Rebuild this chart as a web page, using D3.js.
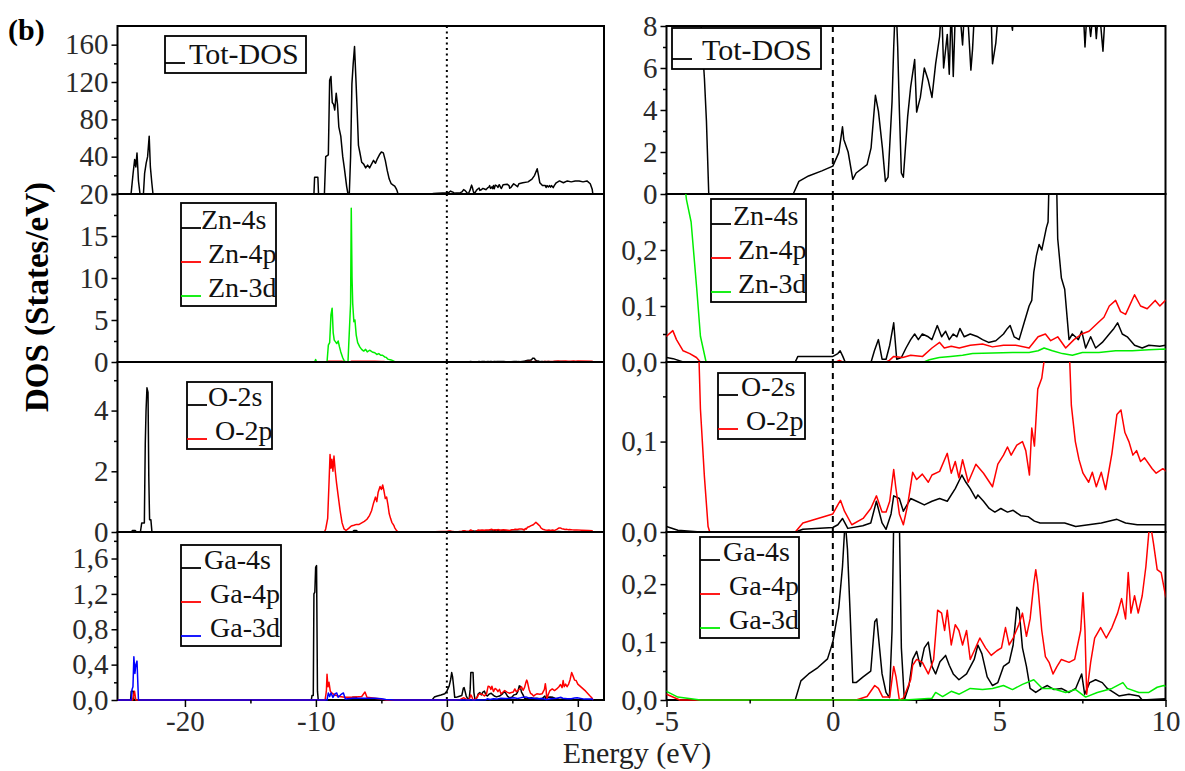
<!DOCTYPE html>
<html>
<head>
<meta charset="utf-8">
<script src="https://cdn.jsdelivr.net/npm/d3@7"></script>
<style>
  body { margin: 0; background: #fff; }
</style>
</head>
<body>
<svg id="chart" width="1185" height="771"></svg>
<script>
// [energy (eV), DOS] pairs
const totDos = [[-25.15,0],[-24.15,0],[-24.1,2],[-23.96,22],[-23.84,37],[-23.75,29],[-23.66,44],[-23.55,14],[-23.43,0],[-23.17,0],[-23.08,22],[-22.96,33],[-22.85,40],[-22.73,62],[-22.64,29],[-22.53,12],[-22.44,0],
  [-10.15,0],[-10.1,18],[-9.85,18],[-9.8,0],[-9.35,0],[-9.25,40],[-9.05,42],[-8.95,122],[-8.85,126],[-8.75,98],[-8.65,96],[-8.56,90],[-8.45,108],[-8.35,96],[-8.25,72],[-8.1,62],[-7.95,40],[-7.83,28],[-7.65,8],[-7.55,0],[-7.45,0],[-7.35,40],[-7.25,118],[-7.15,140],[-7.05,158],[-6.95,125],[-6.85,90],[-6.75,52],[-6.65,45],[-6.5,34],[-6.35,32],[-6.2,28],[-6.05,31],[-5.9,28],[-5.75,32],[-5.6,36],[-5.45,33],[-5.3,38],[-5.15,42],[-5.0,45],[-4.85,44],[-4.7,36],[-4.55,25],[-4.4,16],[-4.25,11],[-4.1,9.6],[-3.98,8.5],[-3.86,5.5],[-3.8,3.5],[-3.73,0],
  [-1.19,0],[-1.02,0.6],[-0.73,0.86],[-0.33,1.1],[0,1.33],[0.18,1.97],[0.29,3.2],[0.33,2.6],[0.46,2.0],[0.6,0.7],[0.7,1.0],[1.03,1.4],[1.15,2.2],[1.28,4.7],[1.37,3.95],[1.49,2.2],[1.58,0.6],[1.66,0.8],[1.78,4.4],[1.83,7],[1.89,9.5],[1.95,7],[2.0,4],[2.06,1.0],[2.12,0.8],[2.25,3.7],[2.34,5.1],[2.46,6.4],[2.52,3.9],[2.63,4.6],[2.75,6.0],[2.87,5.4],[2.98,4.6],[3.09,6.2],[3.21,7.5],[3.27,9],[3.33,6.0],[3.44,7.6],[3.5,5.7],[3.56,9],[3.62,5.6],[3.7,9.5],[3.8,9],[3.9,7.1],[4.0,10],[4.15,5.9],[4.2,6.9],[4.3,10],[4.6,10.5],[4.75,9],[4.8,6.2],[4.9,7.2],[5.1,11],[5.4,7.8],[5.5,11],[5.8,12],[6.2,13],[6.5,16],[6.7,20],[6.9,27],[7.0,20],[7.1,12],[7.3,9],[7.52,9],[7.58,7.0],[7.65,9],[7.75,7.5],[7.85,9],[7.92,7.4],[8.0,9],[8.12,6.8],[8.2,9],[8.35,12],[8.6,14],[8.9,12],[9.2,14],[9.5,13],[9.8,14],[10.1,14],[10.4,13],[10.7,14],[10.95,11],[11.1,5],[11.15,0]]

const zn4s = [[-25.15,0],[-5.0,0.008],[-4.8,0.006],[-4.5,0],[-1.13,0],[-1.05,0.01],[0,0.01],[0.15,0.015],[0.22,0.02],[0.3,0.01],[0.37,0],[1.15,0],[1.25,0.02],[1.37,0.04],[1.48,0.005],[1.6,0.005],[1.71,0.03],[1.83,0.07],[1.92,0.005],[2.06,0.008],[2.2,0.025],[2.34,0.04],[2.46,0.05],[2.57,0.04],[2.69,0.05],[2.87,0.045],[2.98,0.04],[3.14,0.065],[3.27,0.045],[3.39,0.055],[3.5,0.04],[3.62,0.05],[3.73,0.045],[3.82,0.06],[3.95,0.045],[4.13,0.05],[4.36,0.045],[4.5,0.04],[4.68,0.035],[4.9,0.038],[5.13,0.05],[5.25,0.06],[5.33,0.065],[5.45,0.045],[5.6,0.04],[5.75,0.07],[5.9,0.1],[5.98,0.11],[6.04,0.16],[6.12,0.19],[6.2,0.21],[6.28,0.2],[6.35,0.22],[6.42,0.24],[6.47,0.25],[6.55,0.45],[6.65,0.45],[6.7,0.4],[6.76,0.22],[6.87,0.15],[6.97,0.13],[7.1,0.04],[7.2,0.05],[7.29,0.045],[7.38,0.04],[7.48,0.055],[7.6,0.025],[7.75,0.045],[7.9,0.025],[8.1,0.035],[8.31,0.05],[8.45,0.06],[8.56,0.07],[8.7,0.05],[8.85,0.045],[9.07,0.03],[9.3,0.025],[9.5,0.03],[9.83,0.028],[10.0,0.03],[11.1,0.02],[12,0]]

const zn4p = [[-25.15,0],[-9.2,0],[-9.1,0.08],[-8.6,0.1],[-8.0,0.08],[-7.85,0],[-7.4,0],[-7.3,0.08],[-6.5,0.1],[-5.5,0.08],[-5.0,0.046],[-4.81,0.056],[-4.7,0.04],[-4.5,0.02],[-4.3,0.015],[-4.1,0.008],[-3.98,0],[0.1,0],[0.2,0.003],[0.3,0],[1.6,0],[1.7,0.003],[1.83,0.01],[2.1,0.008],[2.34,0.012],[2.7,0.01],[2.98,0.025],[3.21,0.035],[3.35,0.025],[3.56,0.028],[3.8,0.025],[4.13,0.03],[4.5,0.032],[4.8,0.027],[5.13,0.03],[5.5,0.03],[5.9,0.025],[6.17,0.045],[6.39,0.05],[6.55,0.038],[6.76,0.045],[7.0,0.025],[7.25,0.04],[7.48,0.05],[7.7,0.055],[7.97,0.07],[8.15,0.08],[8.31,0.1],[8.5,0.11],[8.65,0.09],[8.8,0.085],[9.07,0.12],[9.25,0.1],[9.45,0.095],[9.69,0.11],[9.83,0.1],[10.0,0.11],[11.1,0.1],[11.15,0]]

const zn3d = [[-25.15,0],[-10.1,0],[-10.02,0.3],[-9.95,0],[-9.15,0],[-9.05,2.0],[-8.95,2.3],[-8.85,5.6],[-8.76,6.4],[-8.68,3.5],[-8.6,2.6],[-8.5,2.4],[-8.41,2.2],[-8.3,2.5],[-8.2,1.8],[-8.1,1.2],[-7.95,0.5],[-7.83,0.1],[-7.55,0],[-7.48,2.5],[-7.35,7],[-7.3,18.3],[-7.24,10],[-7.19,7],[-7.1,4.8],[-7.02,5],[-6.92,3.2],[-6.81,2.3],[-6.65,1.8],[-6.51,1.5],[-6.35,1.3],[-6.2,1.5],[-6.08,1.2],[-5.9,1.4],[-5.7,1.2],[-5.5,1.1],[-5.35,0.9],[-5.2,1.0],[-5.05,0.8],[-4.91,0.8],[-4.75,0.6],[-4.62,0.55],[-4.5,0.34],[-4.4,0.29],[-4.26,0.25],[-4.09,0.13],[-3.98,0.046],[-3.81,0],[2.74,0],[2.9,0.004],[3.2,0.008],[3.54,0.01],[3.9,0.012],[4.2,0.015],[4.8,0.016],[5.4,0.017],[5.9,0.017],[6.17,0.02],[6.35,0.025],[6.6,0.02],[6.9,0.015],[7.2,0.012],[7.5,0.017],[8.0,0.017],[8.5,0.02],[9.0,0.02],[9.5,0.022],[10.0,0.023],[12,0.02]]

const o2s = [[-25.15,0],[-24.1,0],[-24.0,0.05],[-23.8,0.05],[-23.7,0],[-23.4,0],[-23.3,0.3],[-23.1,0.3],[-23.03,2.9],[-22.97,4.0],[-22.9,4.75],[-22.82,4.6],[-22.76,1.8],[-22.7,0.4],[-22.6,0.4],[-22.52,0],[-7.2,0],[-7.1,0.05],[-6.9,0.05],[-6.8,0],[-5.0,0.006],[-4.66,0.002],[-3.98,0],[-1.13,0],[-0.9,0.003],[0,0.005],[0.15,0.008],[0.29,0.015],[0.45,0.004],[0.9,0.007],[1.14,0.01],[1.31,0.034],[1.48,0.01],[1.6,0.003],[1.75,0.02],[1.83,0.04],[2.0,0.037],[2.12,0.023],[2.34,0.037],[2.52,0.034],[2.75,0.03],[2.98,0.034],[3.21,0.037],[3.44,0.034],[3.68,0.048],[3.88,0.063],[4.0,0.055],[4.13,0.048],[4.3,0.037],[4.36,0.041],[4.53,0.034],[4.7,0.026],[4.87,0.022],[5.05,0.026],[5.25,0.022],[5.42,0.024],[5.65,0.018],[5.87,0.017],[6.06,0.012],[6.23,0.01],[6.97,0.01],[7.3,0.006],[8.07,0.01],[8.54,0.014],[8.8,0.01],[9.15,0.008],[10.0,0.008],[11.1,0.005],[11.15,0]]

const o2p = [[-25.15,0],[-9.35,0],[-9.25,0.1],[-9.1,0.45],[-9.0,1.6],[-8.92,2.55],[-8.85,2.1],[-8.78,2.4],[-8.7,2.0],[-8.62,2.5],[-8.52,2.0],[-8.42,1.6],[-8.3,1.2],[-8.15,0.7],[-8.0,0.3],[-7.85,0.1],[-7.7,0.05],[-7.5,0.12],[-7.3,0.2],[-7.1,0.22],[-6.9,0.25],[-6.7,0.25],[-6.5,0.3],[-6.3,0.35],[-6.1,0.42],[-5.9,0.55],[-5.75,0.7],[-5.6,0.95],[-5.45,1.15],[-5.35,1.0],[-5.25,1.3],[-5.1,1.5],[-5.0,1.4],[-4.9,1.55],[-4.8,1.35],[-4.7,1.1],[-4.6,1.15],[-4.5,0.9],[-4.4,0.6],[-4.3,0.45],[-4.2,0.32],[-4.1,0.25],[-4.03,0.2],[-3.98,0.136],[-3.86,0.061],[-3.75,0.006],[-3.7,0],[-1.13,0],[-0.9,0.01],[-0.45,0.015],[0,0.02],[0.15,0.03],[0.23,0.035],[0.35,0.023],[0.57,0.008],[0.91,0.015],[1.14,0.026],[1.31,0.04],[1.48,0.022],[1.6,0.022],[1.71,0.034],[1.83,0.069],[1.89,0.05],[2.0,0.02],[2.12,0.008],[2.25,0.03],[2.4,0.066],[2.52,0.058],[2.69,0.064],[2.87,0.055],[2.98,0.063],[3.21,0.067],[3.44,0.087],[3.56,0.065],[3.68,0.078],[3.79,0.06],[3.9,0.08],[4.07,0.055],[4.3,0.075],[4.53,0.065],[4.8,0.05],[4.96,0.075],[5.13,0.085],[5.25,0.094],[5.36,0.085],[5.53,0.096],[5.7,0.1],[5.8,0.09],[5.91,0.063],[5.98,0.115],[6.06,0.095],[6.16,0.158],[6.28,0.17],[6.39,0.2],[6.6,0.24],[6.8,0.32],[6.95,0.26],[7.12,0.19],[7.17,0.14],[7.29,0.1],[7.4,0.08],[7.52,0.065],[7.69,0.055],[7.8,0.066],[7.92,0.05],[8.07,0.066],[8.2,0.047],[8.39,0.087],[8.54,0.13],[8.66,0.135],[8.78,0.11],[8.9,0.1],[9.02,0.085],[9.13,0.09],[9.25,0.078],[9.37,0.082],[9.6,0.07],[9.72,0.065],[9.92,0.07],[10.3,0.06],[10.8,0.05],[11.1,0.04],[11.15,0]]

const ga4s = [[-25.15,0],[-24.15,0],[-24.1,0.1],[-23.95,0.1],[-23.9,0],[-10.35,0],[-10.3,0.05],[-10.2,0.05],[-10.15,1.2],[-10.08,1.22],[-10.02,1.5],[-9.95,1.52],[-9.88,0.1],[-9.82,0],[-7.25,0],[-7.2,0.03],[-6.9,0.03],[-6.85,0],[-1.13,0],[-0.96,0.033],[-0.73,0.045],[-0.45,0.056],[-0.16,0.071],[0,0.1],[0.18,0.16],[0.29,0.23],[0.37,0.31],[0.44,0.26],[0.52,0.15],[0.6,0.03],[0.7,0.03],[0.91,0.04],[1.14,0.05],[1.26,0.135],[1.32,0.14],[1.48,0.045],[1.6,0.013],[1.7,0.004],[1.78,0.12],[1.83,0.31],[2.0,0.31],[2.06,0.09],[2.15,0],[2.29,0.025],[2.4,0.07],[2.52,0.084],[2.63,0.058],[2.75,0.09],[2.87,0.1],[2.98,0.058],[3.09,0.045],[3.22,0.066],[3.39,0.077],[3.5,0.06],[3.62,0.045],[3.79,0.035],[4.02,0.045],[4.25,0.07],[4.36,0.095],[4.48,0.08],[4.64,0.04],[4.8,0.025],[4.96,0.03],[5.13,0.058],[5.3,0.065],[5.42,0.095],[5.53,0.16],[5.6,0.155],[5.7,0.09],[5.82,0.058],[5.93,0.02],[6.1,0.013],[6.28,0.02],[6.45,0.025],[6.65,0.018],[6.87,0.02],[7.1,0.013],[7.3,0.02],[7.48,0.045],[7.57,0.01],[7.72,0.03],[7.9,0.035],[8.1,0.03],[8.25,0.02],[8.44,0.013],[8.6,0.007],[8.9,0.01],[9.2,0.007],[9.3,0],[10.0,0.002],[11.1,0],[11.15,0]]

const ga4p = [[-25.15,0],[-24.0,0],[-23.85,0.1],[-23.75,0],[-9.3,0],[-9.2,0.1],[-9.15,0.29],[-9.08,0.15],[-9.0,0.2],[-8.9,0.1],[-8.8,0.08],[-8.6,0.06],[-8.2,0.04],[-7.8,0.03],[-7.2,0.03],[-6.5,0.04],[-6.25,0.09],[-6.1,0.03],[-5.5,0.02],[-5.0,0.01],[-4.6,0],[0,0],[0.7,0],[1.03,0.006],[1.26,0.025],[1.37,0.02],[1.5,0.005],[1.71,0.005],[1.83,0.058],[1.9,0.04],[2.0,0],[2.12,0.003],[2.34,0.035],[2.4,0.06],[2.52,0.07],[2.69,0.065],[2.87,0.045],[3.03,0.07],[3.15,0.155],[3.27,0.15],[3.36,0.12],[3.44,0.155],[3.56,0.095],[3.68,0.13],[3.79,0.12],[3.9,0.095],[4.02,0.12],[4.13,0.07],[4.25,0.085],[4.42,0.107],[4.59,0.09],[4.76,0.077],[4.93,0.085],[5.07,0.09],[5.19,0.125],[5.3,0.095],[5.42,0.107],[5.59,0.13],[5.7,0.15],[5.82,0.11],[5.93,0.14],[6.04,0.2],[6.1,0.225],[6.16,0.2],[6.28,0.12],[6.39,0.075],[6.5,0.065],[6.62,0.045],[6.74,0.058],[6.87,0.07],[7.1,0.065],[7.27,0.07],[7.45,0.12],[7.52,0.185],[7.58,0.12],[7.63,0.01],[7.75,0.065],[7.87,0.107],[8.05,0.125],[8.22,0.107],[8.39,0.125],[8.56,0.15],[8.68,0.175],[8.8,0.14],[8.88,0.22],[8.96,0.15],[9.07,0.18],[9.18,0.15],[9.3,0.18],[9.41,0.23],[9.53,0.31],[9.64,0.27],[9.75,0.225],[9.87,0.22],[10.0,0.18],[10.3,0.14],[10.6,0.1],[10.9,0.05],[11.1,0.02],[11.15,0]]

const ga3d = [[-25.15,0],[-24.1,0],[-24.04,0.12],[-23.97,0.15],[-23.9,0.49],[-23.82,0.3],[-23.75,0.4],[-23.66,0.44],[-23.6,0.2],[-23.55,0],[-9.15,0],[-9.05,0.08],[-8.95,0.04],[-8.85,0.08],[-8.7,0.03],[-8.55,0.07],[-8.41,0.08],[-8.3,0.03],[-8.1,0.06],[-7.9,0.08],[-7.75,0.01],[-7.2,0.02],[-6.5,0.02],[-5.5,0.02],[-5.0,0.015],[-4.66,0.005],[-3.98,0],[2.17,0],[2.98,0.003],[3.09,0.013],[3.3,0.006],[3.56,0.015],[3.8,0.01],[4.13,0.02],[4.5,0.018],[4.8,0.02],[5.13,0.025],[5.4,0.018],[5.7,0.027],[6.04,0.035],[6.3,0.02],[6.6,0.02],[7.0,0.013],[7.3,0.018],[7.6,0.005],[7.95,0.013],[8.39,0.02],[8.72,0.03],[8.85,0.02],[9.2,0.013],[9.5,0.013],[9.75,0.022],[9.95,0.025],[10.5,0.01],[11.1,0.01],[11.15,0]]

// tick values
const xTicksL = [-20, -10, 0, 10]
const xMinorL = [-15, -5, 5]
const xTicksR = [-5, 0, 5, 10]
const xMinorR = [-2.5, 2.5, 7.5]
const totTicksL = [0, 40, 80, 120, 160]
const totMinorL = [20, 60, 100, 140]
const znTicksL = [0, 5, 10, 15, 20]
const znMinorL = [2.5, 7.5, 12.5, 17.5]
const oTicksL = [0, 2, 4]
const oMinorL = [1, 3, 5]
const gaTicksL = [0, 0.4, 0.8, 1.2, 1.6]
const gaMinorL = [0.2, 0.6, 1.0, 1.4, 1.8]
const totTicksR = [0, 2, 4, 6, 8]
const totMinorR = [1, 3, 5, 7]
const pdosTicksR = [0, 0.1, 0.2]
const pdosMinorR = [0.05, 0.15, 0.25]
const oTicksR = [0, 0.1]
const oMinorR = [0.05, 0.15]

// legend labels
const totLabels = ['Tot-DOS']
const znLabels = ['Zn-4s', 'Zn-4p', 'Zn-3d']
const oLabels = ['O-2s', 'O-2p']
const gaLabels = ['Ga-4s', 'Ga-4p', 'Ga-3d']

const SERIF = '"Liberation Serif", Tinos, "Times New Roman", "DejaVu Serif", serif'

const svg = d3.select('#chart').style('font-family', SERIF)
const defs = svg.append('defs')

const cols = [
  { x0: 117.5, x1: 604, domain: [-25.15, 12], ticks: xTicksL, minor: xMinorL, dash: '2,3.5' },
  { x0: 666.5, x1: 1165.5, domain: [-5, 10], ticks: xTicksR, minor: xMinorR, dash: '6,5' }
]
const rows = [{ y0: 26, y1: 194 }, { y0: 194, y1: 362 }, { y0: 362, y1: 532 }, { y0: 532, y1: 700 }]

const intFmt = d => String(d)
const commaFmt = d => d3.format('.1f')(d).replace('.', ',')
// the Tot-DOS zero sits under the "20" of the panel below
const totFmt = d => d === 0 ? '' : String(d)
const K = '#000', R = '#ff0000', G = '#00ee00', B = '#0000ff'

const panels = [
  { c: 0, r: 0, ymax: 180, ticks: totTicksL, minor: totMinorL, fmt: totFmt, series: [totDos], colors: [K], labels: totLabels, box: [165, 36, 141, 37], offs: [24], fs: 30 },
  { c: 0, r: 1, ymax: 20, ticks: znTicksL, minor: znMinorL, fmt: intFmt, series: [zn4s, zn4p, zn3d], colors: [K, R, G], labels: znLabels, box: [181, 203, 95, 103], offs: [20, 27, 27], fs: 28 },
  { c: 0, r: 2, ymax: 5.6, ticks: oTicksL, minor: oMinorL, fmt: intFmt, series: [o2s, o2p], colors: [K, R], labels: oLabels, box: [187, 382, 85, 67], offs: [21, 28], fs: 28 },
  { c: 0, r: 3, ymax: 1.9, ticks: gaTicksL, minor: gaMinorL, fmt: commaFmt, series: [ga4s, ga4p, ga3d], colors: [K, R, B], labels: gaLabels, box: [181, 545, 100, 101], offs: [23, 29, 29], fs: 28 },
  { c: 1, r: 0, ymax: 8, ticks: totTicksR, minor: totMinorR, fmt: intFmt, series: [totDos], colors: [K], labels: totLabels, box: [672, 28, 149, 41], offs: [30], fs: 30 },
  { c: 1, r: 1, ymax: 0.3, ticks: pdosTicksR, minor: pdosMinorR, fmt: commaFmt, series: [zn4s, zn4p, zn3d], colors: [K, R, G], labels: znLabels, box: [711, 199, 95, 103], offs: [22, 27, 27], fs: 28 },
  { c: 1, r: 2, ymax: 0.188, ticks: oTicksR, minor: oMinorR, fmt: commaFmt, series: [o2s, o2p], colors: [K, R], labels: oLabels, box: [718, 373, 87, 66], offs: [23, 28], fs: 28 },
  { c: 1, r: 3, ymax: 0.29, ticks: pdosTicksR, minor: pdosMinorR, fmt: commaFmt, series: [ga4s, ga4p, ga3d], colors: [K, R, G], labels: gaLabels, box: [700, 537, 99, 101], offs: [23, 29, 29], fs: 28 }
]

function styleAxis (sel) {
  sel.select('.domain').remove()
  sel.attr('font-family', null).attr('font-size', null)
  sel.selectAll('line').attr('stroke', '#000').attr('stroke-width', 1.5)
  sel.selectAll('text')
    .attr('fill', '#2a2a2a')
    .style('font-family', SERIF)
    .style('font-size', '29px')
}

panels.forEach((p, i) => {
  const col = cols[p.c]
  const row = rows[p.r]
  const x = d3.scaleLinear().domain(col.domain).range([col.x0, col.x1])
  const y = d3.scaleLinear().domain([0, p.ymax]).range([row.y1, row.y0])
  const line = d3.line().x(d => x(d[0])).y(d => y(d[1]))

  // clipped at the top of the frame, a little room below so the zero line shows
  defs.append('clipPath').attr('id', 'clip' + i)
    .append('rect')
    .attr('x', col.x0).attr('y', row.y0)
    .attr('width', col.x1 - col.x0).attr('height', row.y1 - row.y0 + 1.5)

  const g = svg.append('g')

  g.append('rect')
    .attr('x', col.x0).attr('y', row.y0)
    .attr('width', col.x1 - col.x0).attr('height', row.y1 - row.y0)
    .attr('fill', 'none')
    .attr('stroke', '#000')
    .attr('stroke-width', 2)

  // Fermi level
  g.append('line')
    .attr('x1', x(0)).attr('x2', x(0))
    .attr('y1', row.y0).attr('y2', row.y1)
    .attr('stroke', '#000')
    .attr('stroke-width', 2)
    .attr('stroke-dasharray', col.dash)

  g.append('g')
    .attr('clip-path', 'url(#clip' + i + ')')
    .selectAll('path')
    .data(p.series)
    .join('path')
    .attr('d', d => line(d))
    .attr('fill', 'none')
    .attr('stroke', (d, k) => p.colors[k])
    .attr('stroke-width', 1.5)
    .attr('stroke-linejoin', 'round')

  g.append('g')
    .attr('transform', 'translate(' + col.x0 + ',0)')
    .call(d3.axisLeft(y).tickValues(p.minor).tickSize(3.5).tickFormat(''))
    .call(styleAxis)
  g.append('g')
    .attr('transform', 'translate(' + col.x0 + ',0)')
    .call(d3.axisLeft(y).tickValues(p.ticks).tickSize(6).tickPadding(3).tickFormat(p.fmt))
    .call(styleAxis)

  if (p.r === 3) {
    g.append('g')
      .attr('transform', 'translate(0,' + row.y1 + ')')
      .call(d3.axisBottom(x).tickValues(col.minor).tickSize(3.5).tickFormat(''))
      .call(styleAxis)
    g.append('g')
      .attr('transform', 'translate(0,' + row.y1 + ')')
      .call(d3.axisBottom(x).tickValues(col.ticks).tickSize(7).tickPadding(3).tickFormat(intFmt))
      .call(styleAxis)
  }

  // legend
  const [bx, by, bw, bh] = p.box
  const lg = g.append('g')
  lg.append('rect')
    .attr('x', bx).attr('y', by).attr('width', bw).attr('height', bh)
    .attr('fill', '#fff').attr('stroke', '#000').attr('stroke-width', 1.8)
  const n = p.labels.length
  p.labels.forEach((lab, k) => {
    const base = by + bh - 9 - (n - 1 - k) * 34
    lg.append('line')
      .attr('x1', bx).attr('x2', bx + 20)
      .attr('y1', base - 1).attr('y2', base - 1)
      .attr('stroke', p.colors[k]).attr('stroke-width', 1.8)
    lg.append('text')
      .attr('x', bx + p.offs[k]).attr('y', base)
      .style('font-family', SERIF)
      .style('font-size', p.fs + 'px')
      .attr('fill', '#111')
      .text(lab)
  })
})

svg.append('text')
  .attr('x', 8).attr('y', 40)
  .style('font-family', SERIF)
  .style('font-size', '30px').style('font-weight', 'bold')
  .text('(b)')

svg.append('text')
  .attr('transform', 'translate(48,297) rotate(-90)')
  .attr('text-anchor', 'middle')
  .style('font-family', SERIF)
  .style('font-size', '33px').style('font-weight', 'bold')
  .text('DOS (States/eV)')

svg.append('text')
  .attr('x', 637).attr('y', 763)
  .attr('text-anchor', 'middle')
  .style('font-family', SERIF)
  .style('font-size', '30px')
  .attr('fill', '#222')
  .text('Energy (eV)')
</script>
</body>
</html>
